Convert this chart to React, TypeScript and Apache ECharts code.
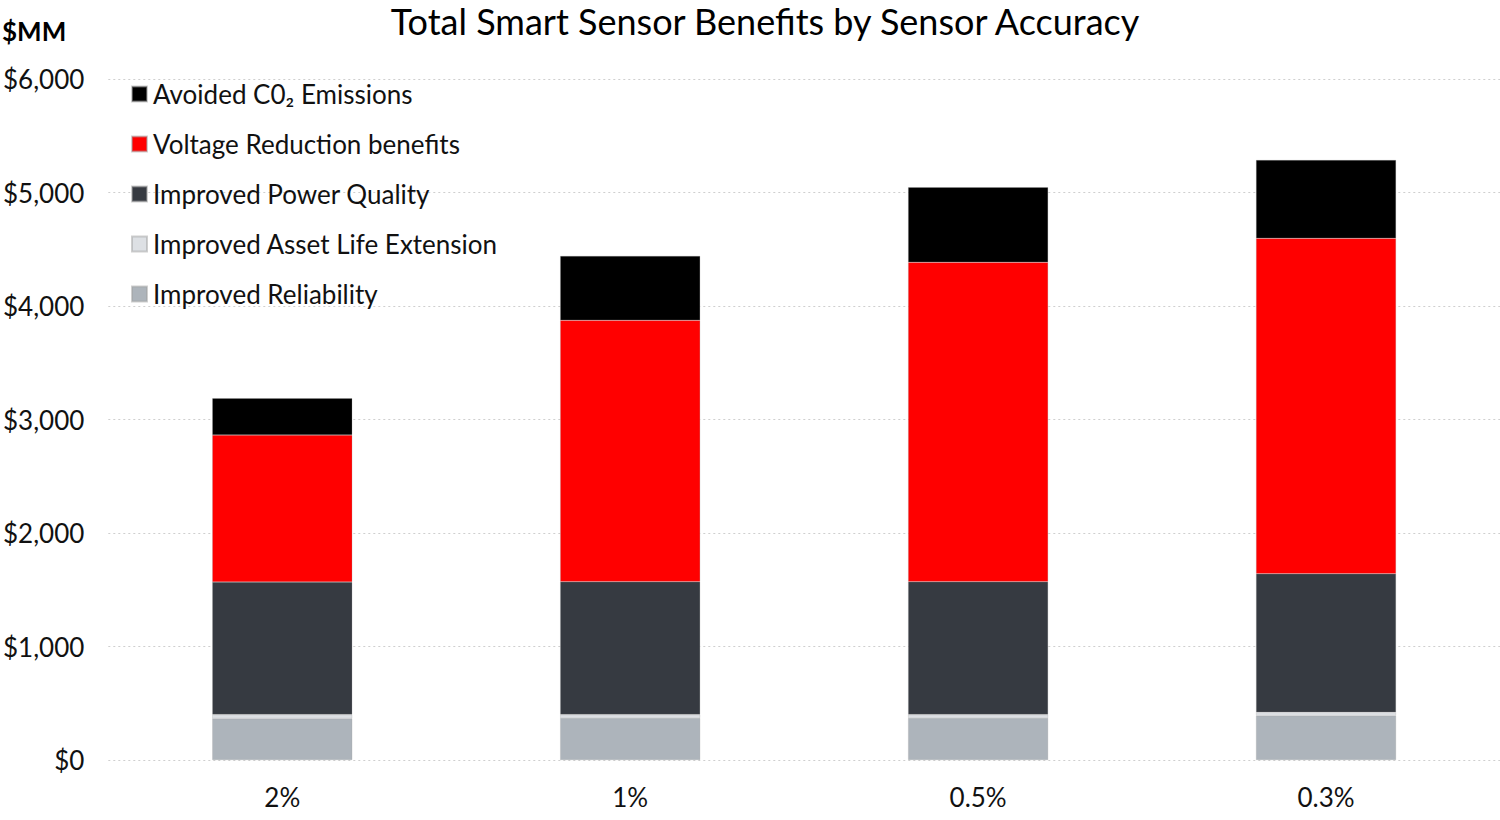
import React, { useEffect, useRef } from "react";
import * as echarts from "echarts";

const categories = ["2%", "1%", "0.5%", "0.3%"];
const reliability = [365, 370, 370, 390];
const assetLife = [35, 30, 30, 30];
const powerQuality = [1168, 1171, 1171, 1221];
const voltageReduction = [1295, 2303, 2814, 2955];
const co2Avoided = [324, 567, 661, 690];
const yTicks = [0, 1000, 2000, 3000, 4000, 5000, 6000];

const seriesDefs = [
  { name: "Improved Reliability", data: reliability, color: "#adb4bb" },
  { name: "Improved Asset Life Extension", data: assetLife, color: "#dde0e4" },
  { name: "Improved Power Quality", data: powerQuality, color: "#363a41" },
  { name: "Voltage Reduction benefits", data: voltageReduction, color: "#ff0000" },
  { name: "Avoided C0₂ Emissions", data: co2Avoided, color: "#000000" },
];

const FONT = "Lato, 'Open Sans', sans-serif";

export default function App() {
  const ref = useRef<HTMLDivElement>(null);
  useEffect(() => {
    const chart = echarts.init(ref.current!, null, { renderer: "svg" });
    chart.setOption({
      animation: false,
      backgroundColor: "#ffffff",
      textStyle: { fontFamily: FONT },
      title: {
        text: "Total Smart Sensor Benefits by Sensor Accuracy",
        left: 760,
        textAlign: "center",
        top: -2,
        textStyle: { fontFamily: FONT, fontSize: 36, fontWeight: "normal", color: "#000" },
      },
      graphic: [
        {
          type: "text",
          left: 2,
          top: 18,
          style: { text: "$MM", font: `bold 26px ${FONT}`, fill: "#000" },
        },
      ],
      legend: {
        orient: "vertical",
        left: 126,
        top: 76,
        itemWidth: 15,
        itemHeight: 15,
        itemGap: 24,
        icon: "rect",
        data: [
          "Avoided C0₂ Emissions",
          "Voltage Reduction benefits",
          "Improved Power Quality",
          "Improved Asset Life Extension",
          "Improved Reliability",
        ],
        textStyle: { fontFamily: FONT, fontSize: 26, color: "#111", padding: [0, 0, 0, 1] },
      },
      grid: { left: 108, right: 0, top: 79, bottom: 60, containLabel: false },
      xAxis: {
        type: "category",
        data: categories,
        axisLine: { show: false },
        axisTick: { show: false },
        axisLabel: { fontSize: 26, color: "#111", margin: 24, fontFamily: FONT },
      },
      yAxis: {
        type: "value",
        min: yTicks[0],
        max: yTicks[yTicks.length - 1],
        interval: 1000,
        axisLine: { show: false },
        axisTick: { show: false },
        axisLabel: {
          fontSize: 26,
          color: "#111",
          margin: 24,
          fontFamily: FONT,
          formatter: (v: number) => "$" + v.toLocaleString("en-US"),
        },
        splitLine: { lineStyle: { type: [2, 3], color: "#cfcfcf", width: 1 } },
      },
      series: seriesDefs.map((s) => ({
        name: s.name,
        type: "bar",
        stack: "total",
        data: s.data,
        barWidth: 140,
        itemStyle: { color: s.color, borderColor: "rgba(160,160,160,0.5)", borderWidth: 0.5 },
      })),
    });
    return () => chart.dispose();
  }, []);
  return (
    <div
      ref={ref}
      style={{ position: "fixed", left: 0, top: 0, width: 1500, height: 820 }}
    />
  );
}
